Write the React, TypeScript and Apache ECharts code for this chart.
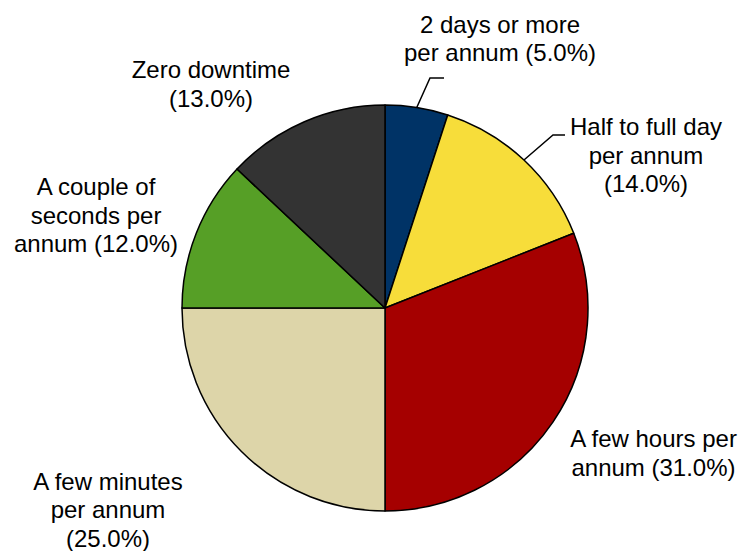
import { useEffect, useRef } from "react";
import * as echarts from "echarts";

// Data
const categories = [
  "2 days or more\nper annum",
  "Half to full day\nper annum",
  "A few hours per\nannum",
  "A few minutes\nper annum",
  "A couple of\nseconds per\nannum",
  "Zero downtime",
];
const shares = [5, 14, 31, 25, 12, 13];
const pctSeparators = [" ", "\n", " ", "\n", " ", "\n"];

// Styles / layout
const colors = ["#003366", "#F7DD3A", "#A50000", "#DDD5A9", "#569F26", "#333333"];
const labelCenters: number[][] = [
  [500, 38.5],
  [646, 155],
  [653.5, 453],
  [108, 509.5],
  [96, 215],
  [211, 84],
];
const leaderTails: Record<number, number[][]> = {
  0: [
    [430, 78],
    [444, 78],
  ],
  1: [
    [553, 135],
    [565, 135],
  ],
};

export default function App() {
  const ref = useRef<HTMLDivElement>(null);
  useEffect(() => {
    document.body.style.margin = "0";
    if (!ref.current) return;
    const chart = echarts.init(ref.current, undefined, { renderer: "svg" });
    chart.setOption({
      animation: false,
      backgroundColor: "#ffffff",
      series: [
        {
          type: "pie",
          center: [385, 308],
          radius: 203,
          startAngle: 90,
          clockwise: true,
          avoidLabelOverlap: false,
          itemStyle: { borderColor: "#000000", borderWidth: 1.5 },
          emphasis: { disabled: true },
          label: {
            show: true,
            position: "outside",
            overflow: "none",
            color: "#000000",
            fontFamily: "Liberation Sans, Arial, sans-serif",
            fontSize: 24,
            lineHeight: 28.5,
            align: "center",
            formatter: (p: any) =>
              `${p.name}${pctSeparators[p.dataIndex]}(${Number(p.value).toFixed(1)}%)`,
          },
          labelLine: {
            show: true,
            length: 20,
            length2: 12,
            smooth: false,
            lineStyle: { color: "#000000", width: 1.5 },
          },
          labelLayout: (params: any) => {
            const i = params.dataIndex;
            const c = labelCenters[i];
            const res: any = {
              x: c[0],
              y: c[1],
              align: "center",
              verticalAlign: "middle",
            };
            const tail = leaderTails[i];
            if (tail && params.labelLinePoints) {
              res.labelLinePoints = [params.labelLinePoints[0], tail[0], tail[1]];
            }
            return res;
          },
          data: categories.map((name, i) => ({
            name,
            value: shares[i],
            itemStyle: { color: colors[i] },
            labelLine: { show: leaderTails[i] !== undefined },
          })),
        },
      ],
    });
    return () => chart.dispose();
  }, []);
  return <div ref={ref} style={{ width: 742, height: 551 }} />;
}
